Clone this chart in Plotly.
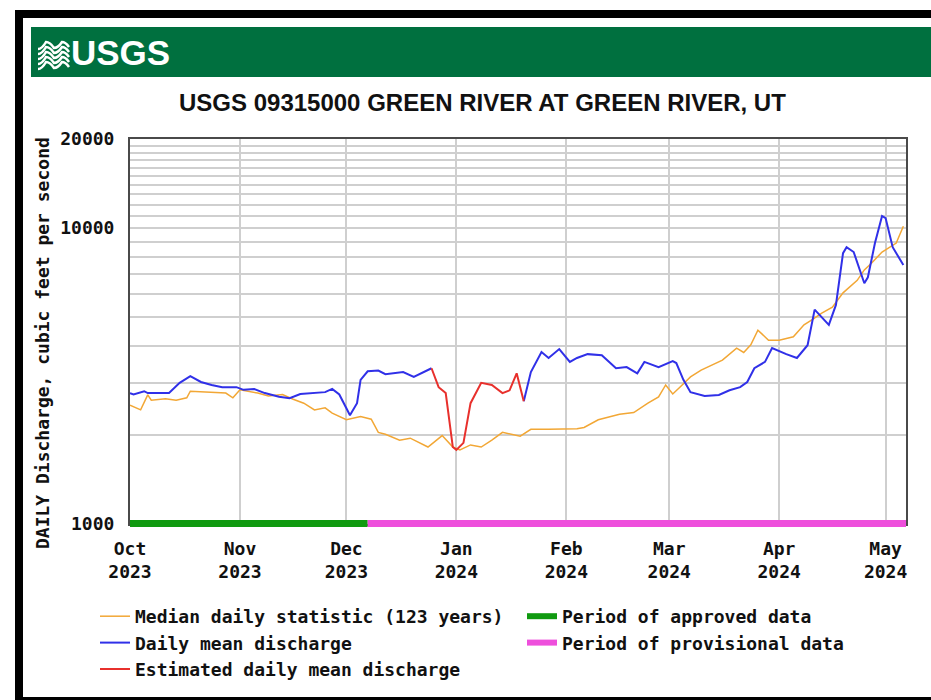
import pandas as pd
import plotly.graph_objects as go

# ---- data -------------------------------------------------------------
median_dates = [
    "2023-10-01", "2023-10-04", "2023-10-06", "2023-10-07", "2023-10-11", "2023-10-14",
    "2023-10-17", "2023-10-18", "2023-10-28", "2023-10-30", "2023-11-01", "2023-11-06",
    "2023-11-09", "2023-11-13", "2023-11-16", "2023-11-19", "2023-11-22", "2023-11-25",
    "2023-11-27", "2023-12-01", "2023-12-05", "2023-12-08", "2023-12-10", "2023-12-12",
    "2023-12-16", "2023-12-19", "2023-12-24", "2023-12-28", "2023-12-31", "2024-01-02",
    "2024-01-05", "2024-01-08", "2024-01-11", "2024-01-14", "2024-01-19", "2024-01-22",
    "2024-01-27", "2024-02-04", "2024-02-06", "2024-02-10", "2024-02-16", "2024-02-20",
    "2024-02-24", "2024-02-27", "2024-02-29", "2024-03-02", "2024-03-04", "2024-03-07",
    "2024-03-10", "2024-03-13", "2024-03-16", "2024-03-20", "2024-03-22", "2024-03-24",
    "2024-03-26", "2024-03-29", "2024-04-01", "2024-04-05", "2024-04-08", "2024-04-10",
    "2024-04-13", "2024-04-16", "2024-04-19", "2024-04-23", "2024-04-25", "2024-04-27",
    "2024-04-30", "2024-05-04", "2024-05-06",
]
median_cfs = [
    2520, 2430, 2730, 2620, 2650, 2620,
    2670, 2810, 2770, 2670, 2840, 2770,
    2710, 2740, 2640, 2560, 2430, 2470,
    2370, 2250, 2310, 2260, 2040, 2010,
    1920, 1950, 1820, 1990, 1820, 1780,
    1850, 1820, 1920, 2040, 1980, 2090,
    2090, 2100, 2120, 2250, 2350, 2380,
    2560, 2690, 2950, 2750, 2900, 3140,
    3310, 3450, 3580, 3930, 3800, 4030,
    4520, 4180, 4180, 4290, 4710, 4880,
    5160, 5400, 6040, 6660, 7220, 7610,
    8300, 8900, 10150,
]

# approved/provisional daily means (None marks the estimated stretch)
mean_dates = [
    "2023-10-01", "2023-10-02", "2023-10-05", "2023-10-06", "2023-10-12", "2023-10-15",
    "2023-10-18", "2023-10-21", "2023-10-24", "2023-10-27", "2023-10-31", "2023-11-02",
    "2023-11-05", "2023-11-08", "2023-11-12", "2023-11-15", "2023-11-18", "2023-11-22",
    "2023-11-25", "2023-11-27", "2023-11-29", "2023-12-01", "2023-12-02", "2023-12-04",
    "2023-12-05", "2023-12-07", "2023-12-10", "2023-12-12", "2023-12-17", "2023-12-20",
    "2023-12-22", "2023-12-25",
    None,
    "2024-01-20", "2024-01-22", "2024-01-25", "2024-01-27", "2024-01-30", "2024-02-02",
    "2024-02-04", "2024-02-07", "2024-02-11", "2024-02-15", "2024-02-18", "2024-02-21",
    "2024-02-23", "2024-02-27", "2024-03-02", "2024-03-03", "2024-03-05", "2024-03-07",
    "2024-03-11", "2024-03-15", "2024-03-18", "2024-03-21", "2024-03-23", "2024-03-25",
    "2024-03-28", "2024-03-30", "2024-04-03", "2024-04-06", "2024-04-09", "2024-04-11",
    "2024-04-15", "2024-04-17", "2024-04-19", "2024-04-20", "2024-04-22", "2024-04-25",
    "2024-04-26", "2024-04-28", "2024-04-30", "2024-05-01", "2024-05-03", "2024-05-06",
]
mean_cfs = [
    2770, 2740, 2810, 2770, 2770, 3000,
    3160, 3020, 2950, 2900, 2900, 2840,
    2860, 2770, 2690, 2660, 2750, 2770,
    2790, 2860, 2740, 2460, 2330, 2560,
    3070, 3280, 3300, 3210, 3260, 3140,
    3230, 3360,
    None,
    2600, 3260, 3810, 3640, 3900, 3530,
    3640, 3750, 3720, 3360, 3390, 3230,
    3530, 3390, 3550, 3500, 3070, 2790,
    2710, 2730, 2830, 2900, 3020, 3360,
    3530, 3930, 3750, 3640, 4020, 5300,
    4710, 5500, 8230, 8620, 8300, 6510,
    6820, 8900, 10990, 10810, 8620, 7500,
]

est_dates = [
    "2023-12-25", "2023-12-27", "2023-12-29", "2023-12-31", "2024-01-01", "2024-01-03",
    "2024-01-05", "2024-01-08", "2024-01-11", "2024-01-14", "2024-01-16", "2024-01-18",
    "2024-01-20",
]
est_cfs = [
    3360, 2900, 2770, 1820, 1780, 1880,
    2560, 3000, 2950, 2770, 2830, 3230,
    2600,
]

approved_period = ["2023-10-01", "2023-12-07"]
provisional_period = ["2023-12-07", "2024-05-06 18:00"]

month_ticks = ["2023-10-01", "2023-11-01", "2023-12-01", "2024-01-01",
               "2024-02-01", "2024-03-01", "2024-04-01", "2024-05-01"]
month_labels = ["Oct<br>2023", "Nov<br>2023", "Dec<br>2023", "Jan<br>2024",
                "Feb<br>2024", "Mar<br>2024", "Apr<br>2024", "May<br>2024"]

y_ticks = list(range(1000, 21000, 1000))
y_labels = [str(v) if v in (1000, 10000, 20000) else "" for v in y_ticks]

x_range = ["2023-10-01", "2024-05-06 18:00"]

# ---- page geometry (pixels) --------------------------------------------
W, H = 931, 700
PL, PR, PT, PB = 130, 906, 139, 524


def px(x):
    return (x - PL) / (PR - PL)


def py(y):
    return (PB - y) / (PB - PT)


MONO = "DejaVu Sans Mono"
NARROW = "Liberation Sans Narrow, Arial Narrow, Liberation Sans, sans-serif"

fig = go.Figure()

fig.add_trace(go.Scatter(
    x=pd.to_datetime(median_dates), y=median_cfs, mode="lines",
    line=dict(color="#f2a735", width=1.5),
    name="Median daily statistic (123 years)", legend="legend", legendgroup="a",
))
fig.add_trace(go.Scatter(
    x=[pd.Timestamp(d) if d else None for d in mean_dates], y=mean_cfs, mode="lines",
    line=dict(color="#3030e8", width=2), connectgaps=False,
    name="Daily mean discharge", legend="legend", legendgroup="b",
))
fig.add_trace(go.Scatter(
    x=pd.to_datetime(est_dates), y=est_cfs, mode="lines",
    line=dict(color="#e8302c", width=2),
    name="Estimated daily mean discharge", legend="legend", legendgroup="c",
))
# legend keys for the data-status bars
fig.add_trace(go.Scatter(
    x=[None], y=[None], mode="lines", line=dict(color="#109a10", width=6),
    name="Period of approved data", legend="legend2", legendgroup="d",
))
fig.add_trace(go.Scatter(
    x=[None], y=[None], mode="lines", line=dict(color="#ee4fdc", width=6),
    name="Period of provisional data", legend="legend2", legendgroup="e",
))

shapes = []
# data-status bars along the bottom axis
for period, col in ((approved_period, "#109a10"), (provisional_period, "#ee4fdc")):
    shapes.append(dict(type="rect", xref="x", yref="paper",
                       x0=period[0], x1=period[1], y0=py(527), y1=py(520),
                       fillcolor=col, line=dict(width=0), layer="above"))

# black frame
shapes += [
    dict(type="rect", xref="paper", yref="paper", x0=px(15), x1=px(W), y0=py(10), y1=py(18),
         fillcolor="black", line=dict(width=0)),
    dict(type="rect", xref="paper", yref="paper", x0=px(15), x1=px(23), y0=py(10), y1=py(H),
         fillcolor="black", line=dict(width=0)),
    dict(type="rect", xref="paper", yref="paper", x0=px(15), x1=px(W), y0=py(697), y1=py(H),
         fillcolor="black", line=dict(width=0)),
    # green banner
    dict(type="rect", xref="paper", yref="paper", x0=px(31), x1=px(W), y0=py(27), y1=py(77),
         fillcolor="#00703f", line=dict(width=0)),
]

# wave emblem of the logo
for k in range(5):
    yy = 45 + k * 5
    pts = [(38, yy + 4), (46, yy - 3), (54, yy + 3), (62, yy - 3), (69, yy + 2)]
    path = "M {} {}".format(px(pts[0][0]), py(pts[0][1]))
    for i in range(1, len(pts)):
        cx = (pts[i - 1][0] + pts[i][0]) / 2
        path += " Q {} {} {} {}".format(px(cx), py(pts[i - 1][1]), px(pts[i][0]), py(pts[i][1]))
    shapes.append(dict(type="path", xref="paper", yref="paper", path=path,
                       line=dict(color="white", width=2.5)))

annotations = [
    dict(text="<b>USGS</b>", xref="paper", yref="paper", x=px(69), y=py(52),
         xanchor="left", yanchor="middle", showarrow=False,
         font=dict(family=NARROW, size=35, color="white")),
    dict(text="<b>USGS 09315000 GREEN RIVER AT GREEN RIVER, UT</b>", xref="paper", yref="paper",
         x=px(482), y=py(103), xanchor="center", yanchor="middle", showarrow=False,
         font=dict(family=NARROW, size=24, color="#111111")),
    dict(text="<b>DAILY Discharge, cubic feet per second</b>", xref="paper", yref="paper",
         x=px(42), y=py(343), xanchor="center", yanchor="middle", textangle=-90,
         showarrow=False, font=dict(family=MONO, size=18, color="#111111")),
]

fig.update_layout(
    width=W, height=H,
    margin=dict(l=PL, r=W - PR, t=PT, b=H - PB, autoexpand=False),
    paper_bgcolor="white", plot_bgcolor="white",
    shapes=shapes, annotations=annotations,
    font=dict(family=MONO, size=18, color="#111111", weight="bold"),
    xaxis=dict(
        type="date", range=x_range,
        tickvals=month_ticks, ticktext=month_labels, tickangle=0,
        showgrid=True, gridcolor="#cfcfcf", gridwidth=1.5,
        showline=True, linecolor="#4a4a4a", linewidth=2, mirror=True,
        ticks="", ticklabelstandoff=7, zeroline=False, automargin=False,
        tickfont=dict(family=MONO, size=18, color="#111111", weight="bold"),
    ),
    yaxis=dict(
        type="log", range=[3, 4.30103],
        tickvals=y_ticks, ticktext=y_labels,
        showgrid=True, gridcolor="#cfcfcf", gridwidth=1.5,
        showline=True, linecolor="#4a4a4a", linewidth=2, mirror=True,
        ticks="", ticklabelstandoff=10, zeroline=False, automargin=False,
        tickfont=dict(family=MONO, size=18, color="#111111", weight="bold"),
    ),
    legend=dict(
        x=px(95), y=py(598), xanchor="left", yanchor="top",
        bgcolor="rgba(0,0,0,0)", traceorder="grouped", tracegroupgap=0,
        font=dict(family=MONO, size=18, color="#111111", weight="bold"),
    ),
    legend2=dict(
        x=px(522), y=py(598), xanchor="left", yanchor="top",
        bgcolor="rgba(0,0,0,0)", traceorder="grouped", tracegroupgap=0,
        font=dict(family=MONO, size=18, color="#111111", weight="bold"),
    ),
    showlegend=True,
)

fig.write_html("out.html")
